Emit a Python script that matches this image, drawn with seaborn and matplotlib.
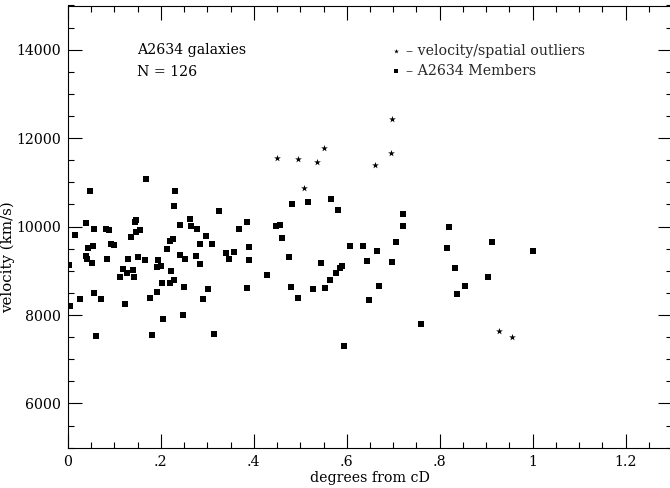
import matplotlib
matplotlib.use("Agg")
import matplotlib.pyplot as plt
import seaborn as sns
import numpy as np
import pandas as pd
from matplotlib.ticker import MultipleLocator, FixedLocator, FixedFormatter

# ---- data ----
member_x = [0.168, 0.048, 0.230, 0.229, 0.326, 0.039, 0.146, 0.145, 0.056, 0.081,
            0.089, 0.156, 0.146, 0.242, 0.263, 0.264, 0.277, 0.015, 0.135, 0.225,
            0.220, 0.296, 0.093, 0.100, 0.284, 0.311, 0.042, 0.053, 0.214, 0.039,
            0.040, 0.052, 0.085, 0.130, 0.151, 0.166, 0.193, 0.242, 0.251, 0.276,
            0.285, 0.002,
            0.118, 0.140, 0.112, 0.126, 0.141, 0.191, 0.200, 0.222, 0.202, 0.220,
            0.229, 0.250, 0.301, 0.191, 0.177, 0.291, 0.055, 0.025, 0.070, 0.004,
            0.123, 0.205, 0.248, 0.060, 0.180, 0.314,
            0.482, 0.517, 0.565, 0.581, 0.386, 0.369, 0.447, 0.457, 0.461, 0.340,
            0.357, 0.346, 0.390, 0.389, 0.476, 0.608, 0.636, 0.644, 0.544, 0.585,
            0.590,
            0.576, 0.563, 0.429, 0.386, 0.479, 0.527, 0.553, 0.495, 0.647, 0.595,
            0.721, 0.721, 0.821, 0.707, 0.912, 0.816, 0.665, 1.000, 0.697, 0.833,
            0.904, 0.670, 0.854, 0.838, 0.759]
member_v = [11085, 10800, 10815, 10460, 10355, 10090, 10160, 10115, 9955, 9950,
            9915, 9915, 9880, 10045, 10180, 10005, 9950, 9805, 9775, 9720,
            9685, 9795, 9615, 9580, 9610, 9615, 9525, 9550, 9495, 9340,
            9275, 9170, 9275, 9270, 9315, 9250, 9255, 9350, 9270, 9345,
            9155, 9135,
            9035, 9020, 8865, 8940, 8870, 9080, 9105, 9000, 8735, 8730,
            8795, 8635, 8590, 8530, 8380, 8355, 8495, 8365, 8365, 8215,
            8245, 7905, 8010, 7520, 7545, 7560,
            10515, 10560, 10635, 10375, 10105, 9955, 10015, 10045, 9750, 9395,
            9430, 9275, 9535, 9255, 9320, 9565, 9570, 9230, 9180, 9075,
            9105,
            8955, 8800, 8895, 8620, 8645, 8600, 8615, 8395, 8340, 7295,
            10280, 10005, 9995, 9660, 9660, 9525, 9450, 9440, 9210, 9065,
            8860, 8665, 8665, 8465, 7795]

outlier_x = [0.450, 0.494, 0.535, 0.550, 0.509, 0.660, 0.695, 0.697, 0.928, 0.955]
outlier_v = [11555, 11520, 11460, 11775, 10875, 11400, 11660, 12425, 7630, 7505]

x_ticks = [0, 0.2, 0.4, 0.6, 0.8, 1.0, 1.2]
x_tick_labels = ["0", ".2", ".4", ".6", ".8", "1", "1.2"]
y_ticks = [6000, 8000, 10000, 12000, 14000]
y_tick_labels = ["6000", "8000", "10000", "12000", "14000"]

title_lines = ["A2634 galaxies", "N = 126"]
legend_labels = ["\u2013 velocity/spatial outliers", "\u2013 A2634 Members"]

# ---- style ----
sns.set_theme(style="ticks")
plt.rcParams["font.family"] = ["DejaVu Serif"]
FS = 10.2
plt.rcParams["font.size"] = FS

fig = plt.figure(figsize=(6.7, 4.88), dpi=100)
ax = fig.add_axes([68 / 670, (488 - 447.7) / 488, 604 / 670, 442.2 / 488])

members = pd.DataFrame({"x": member_x, "v": member_v})
outliers = pd.DataFrame({"x": outlier_x, "v": outlier_v})

sns.scatterplot(data=outliers, x="x", y="v", marker="*", s=26, color="black",
                linewidth=0, ax=ax, label=legend_labels[0])
sns.scatterplot(data=members, x="x", y="v", marker="s", s=15, color="black",
                linewidth=0, ax=ax, label=legend_labels[1])

ax.set_xlim(0, 1.3)
ax.set_ylim(5000, 15000)

ax.xaxis.set_major_locator(FixedLocator(x_ticks))
ax.xaxis.set_major_formatter(FixedFormatter(x_tick_labels))
ax.xaxis.set_minor_locator(MultipleLocator(0.05))
ax.yaxis.set_major_locator(FixedLocator(y_ticks))
ax.yaxis.set_major_formatter(FixedFormatter(y_tick_labels))
ax.yaxis.set_minor_locator(MultipleLocator(500))

ax.tick_params(which="both", direction="in", top=True, right=True,
               width=0.8, color="black", labelsize=FS, labelcolor="black")
ax.tick_params(which="major", length=10, pad=5)
ax.tick_params(which="minor", length=4.5)
for sp in ax.spines.values():
    sp.set_visible(True)
    sp.set_linewidth(0.8)
    sp.set_color("black")

ax.set_xlabel("degrees from cD", fontsize=FS, color="black")
ax.set_ylabel("velocity (km/s)", fontsize=10.8, color="black")
ax.xaxis.set_label_coords(0.5, -0.052)
ax.yaxis.set_label_coords(-0.088, 0.43)

ax.text(0.114, 0.899, title_lines[0], transform=ax.transAxes, fontsize=FS,
        va="center", ha="left", color="black")
ax.text(0.114, 0.849, title_lines[1], transform=ax.transAxes, fontsize=FS,
        va="center", ha="left", color="black")

leg = ax.legend(loc="upper left", bbox_to_anchor=(0.536, 0.914), frameon=False,
                handlelength=0.6, handletextpad=0.4, markerscale=0.7,
                borderaxespad=0, borderpad=0, labelspacing=0.45, fontsize=FS)

fig.savefig("out.png", dpi=100, facecolor="white")
